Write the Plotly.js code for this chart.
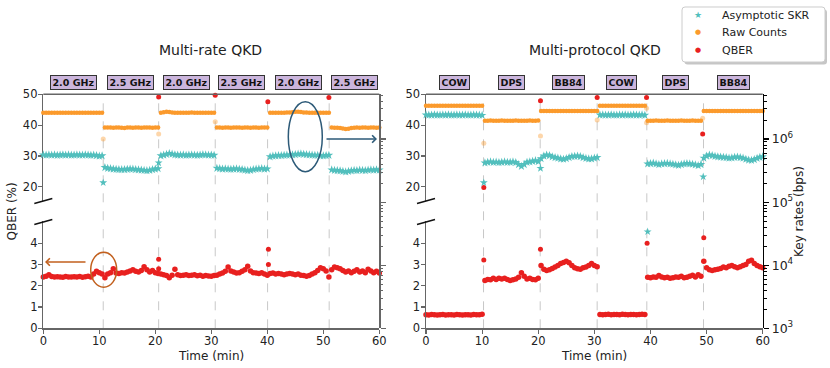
<!DOCTYPE html>
<html><head><meta charset="utf-8">
<script src="https://cdn.plot.ly/plotly-3.0.1.min.js"></script>
<style>html,body{margin:0;padding:0;background:#fff}</style>
</head><body><div id="chart" style="width:830px;height:368px"></div>
<script>
// ---------- data ----------
const timeMin = [0,0.5,1,1.5,2,2.5,3,3.5,4,4.5,5,5.5,6,6.5,7,7.5,8,8.5,9,9.5,10,10.5,11,11.5,12,12.5,13,13.5,14,14.5,15,15.5,16,16.5,17,17.5,18,18.5,19,19.5,20,20.5,21,21.5,22,22.5,23,23.5,24,24.5,25,25.5,26,26.5,27,27.5,28,28.5,29,29.5,30,30.5,31,31.5,32,32.5,33,33.5,34,34.5,35,35.5,36,36.5,37,37.5,38,38.5,39,39.5,40,40.5,41,41.5,42,42.5,43,43.5,44,44.5,45,45.5,46,46.5,47,47.5,48,48.5,49,49.5,50,50.5,51,51.5,52,52.5,53,53.5,54,54.5,55,55.5,56,56.5,57,57.5,58,58.5,59,59.5,60];

const switchRate = [10.7,20.6,30.7,40.05,51.05];
const switchProto = [10.25,20.35,30.5,39.35,49.45];
const rateLabels = ['2.0 GHz','2.5 GHz','2.0 GHz','2.5 GHz','2.0 GHz','2.5 GHz'];
const protoLabels = ['COW','DPS','BB84','COW','DPS','BB84'];
const seriesNames = ['Asymptotic SKR','Raw Counts','QBER'];

// Multi-rate panel
const rateSkr = [5.62e5,5.58e5,5.63e5,5.57e5,5.61e5,5.55e5,5.60e5,5.64e5,5.58e5,5.62e5,5.56e5,5.60e5,5.63e5,5.59e5,5.57e5,5.62e5,5.60e5,5.55e5,5.58e5,5.50e5,5.38e5,5.45e5,
 3.55e5,3.45e5,3.40e5,3.36e5,3.33e5,3.30e5,3.28e5,3.30e5,3.33e5,3.36e5,3.35e5,3.30e5,3.27e5,3.24e5,3.20e5,3.16e5,3.20e5,3.28e5,3.36e5,3.40e5,
 5.45e5,5.60e5,5.72e5,5.90e5,5.78e5,5.65e5,5.60e5,5.58e5,5.62e5,5.55e5,5.60e5,5.63e5,5.58e5,5.55e5,5.60e5,5.66e5,5.62e5,5.57e5,5.60e5,5.55e5,
 3.45e5,3.40e5,3.36e5,3.38e5,3.35e5,3.32e5,3.36e5,3.38e5,3.33e5,3.30e5,3.22e5,3.18e5,3.20e5,3.28e5,3.35e5,3.38e5,3.40e5,3.36e5,3.38e5,
 5.25e5,5.38e5,5.45e5,5.50e5,5.48e5,5.55e5,5.58e5,5.60e5,5.65e5,5.70e5,5.78e5,5.82e5,5.75e5,5.68e5,5.62e5,5.58e5,5.55e5,5.52e5,5.45e5,5.42e5,5.50e5,5.55e5,
 3.25e5,3.20e5,3.18e5,3.15e5,3.08e5,3.03e5,3.08e5,3.15e5,3.20e5,3.18e5,3.22e5,3.20e5,3.17e5,3.22e5,3.25e5,3.22e5,3.26e5,3.24e5];
const rateRaw = [2.62e6,2.61e6,2.62e6,2.62e6,2.61e6,2.62e6,2.62e6,2.61e6,2.62e6,2.62e6,2.61e6,2.62e6,2.62e6,2.61e6,2.62e6,2.62e6,2.61e6,2.62e6,2.62e6,2.61e6,2.62e6,2.61e6,
 1.53e6,1.52e6,1.52e6,1.51e6,1.52e6,1.52e6,1.51e6,1.50e6,1.52e6,1.52e6,1.51e6,1.52e6,1.52e6,1.51e6,1.52e6,1.52e6,1.52e6,1.51e6,1.52e6,1.52e6,
 2.62e6,2.66e6,2.72e6,2.68e6,2.63e6,2.62e6,2.61e6,2.62e6,2.62e6,2.61e6,2.62e6,2.63e6,2.62e6,2.61e6,2.62e6,2.62e6,2.61e6,2.62e6,2.62e6,2.61e6,
 1.52e6,1.52e6,1.51e6,1.52e6,1.52e6,1.51e6,1.52e6,1.52e6,1.52e6,1.51e6,1.52e6,1.52e6,1.51e6,1.52e6,1.52e6,1.51e6,1.52e6,1.52e6,1.52e6,
 2.61e6,2.62e6,2.62e6,2.61e6,2.62e6,2.62e6,2.63e6,2.64e6,2.66e6,2.70e6,2.72e6,2.68e6,2.65e6,2.63e6,2.62e6,2.61e6,2.62e6,2.62e6,2.61e6,2.62e6,2.62e6,2.61e6,
 1.52e6,1.51e6,1.51e6,1.50e6,1.47e6,1.44e6,1.46e6,1.50e6,1.51e6,1.52e6,1.51e6,1.52e6,1.52e6,1.51e6,1.52e6,1.52e6,1.51e6,1.52e6];
const rateQber = [2.42,2.45,2.52,2.44,2.41,2.43,2.42,2.40,2.44,2.42,2.41,2.43,2.42,2.44,2.40,2.43,2.45,2.42,2.55,2.68,2.62,2.55,
 2.38,2.55,2.62,2.80,2.60,2.58,2.62,2.60,2.65,2.70,2.76,2.68,2.65,2.72,2.90,2.75,2.65,2.72,2.62,2.58,
 2.55,2.52,2.48,2.38,2.50,2.78,2.52,2.48,2.50,2.52,2.48,2.50,2.52,2.47,2.50,2.45,2.48,2.46,2.45,2.48,
 2.50,2.55,2.60,2.68,2.88,2.70,2.65,2.60,2.62,2.68,2.75,2.92,2.70,2.62,2.60,2.58,2.62,2.55,2.50,
 2.58,2.60,2.55,2.58,2.55,2.52,2.55,2.58,2.55,2.52,2.55,2.50,2.48,2.45,2.48,2.55,2.62,2.72,2.85,2.80,2.70,2.42,
 2.75,2.88,2.85,2.80,2.72,2.65,2.70,2.62,2.68,2.75,2.65,2.70,2.62,2.78,2.70,2.62,2.68,2.60];
const rateQberHighT = [20.6,30.7,40.1,51.0];
const rateQberHigh = [49.1,49.7,47.6,49.0];
const rateQberSpikeT = [20.6,20.6,40.2,40.2];
const rateQberSpike = [3.25,2.80,3.72,3.00];
const rateRawTransT = [10.7,20.6,30.7];
const rateRawTrans = [1.0e6,1.2e6,1.89e6];
const rateSkrTransT = [10.7,20.6];
const rateSkrTrans = [2.04e5,4.2e5];

// Multi-protocol panel
const protoSkr = [2.42e6,2.40e6,2.41e6,2.43e6,2.41e6,2.40e6,2.42e6,2.41e6,2.43e6,2.40e6,2.41e6,2.42e6,2.40e6,2.41e6,2.42e6,2.40e6,2.41e6,2.42e6,2.41e6,2.40e6,2.38e6,
 4.20e5,4.30e5,4.35e5,4.28e5,4.32e5,4.25e5,4.30e5,4.35e5,4.28e5,4.30e5,4.35e5,4.25e5,3.95e5,3.70e5,3.95e5,4.30e5,4.35e5,4.45e5,4.55e5,4.40e5,
 4.90e5,5.40e5,5.60e5,5.50e5,5.25e5,5.10e5,5.00e5,4.85e5,4.80e5,4.90e5,5.10e5,5.30e5,5.35e5,5.40e5,5.30e5,5.10e5,4.95e5,4.85e5,4.85e5,5.00e5,5.10e5,
 2.41e6,2.42e6,2.40e6,2.41e6,2.43e6,2.41e6,2.40e6,2.42e6,2.41e6,2.42e6,2.40e6,2.41e6,2.43e6,2.41e6,2.40e6,2.42e6,2.39e6,
 4.05e5,4.10e5,4.15e5,4.05e5,3.95e5,4.05e5,4.10e5,4.12e5,4.05e5,4.00e5,3.90e5,3.85e5,3.95e5,4.05e5,4.10e5,4.05e5,4.00e5,3.90e5,3.80e5,3.95e5,
 5.00e5,5.40e5,5.60e5,5.50e5,5.35e5,5.25e5,5.20e5,5.15e5,5.10e5,5.00e5,5.05e5,5.15e5,5.20e5,5.10e5,5.00e5,4.80e5,4.65e5,4.60e5,4.75e5,4.95e5,5.15e5,5.25e5];
const protoRaw = [3.38e6,3.39e6,3.38e6,3.38e6,3.39e6,3.38e6,3.38e6,3.39e6,3.38e6,3.38e6,3.39e6,3.38e6,3.38e6,3.39e6,3.38e6,3.38e6,3.39e6,3.38e6,3.38e6,3.39e6,3.38e6,
 1.95e6,1.96e6,1.97e6,1.96e6,1.95e6,1.96e6,1.97e6,1.96e6,1.95e6,1.96e6,1.96e6,1.97e6,1.95e6,1.96e6,1.96e6,1.95e6,1.97e6,1.96e6,1.96e6,1.97e6,
 2.79e6,2.80e6,2.79e6,2.79e6,2.80e6,2.79e6,2.79e6,2.80e6,2.79e6,2.79e6,2.80e6,2.79e6,2.79e6,2.80e6,2.79e6,2.79e6,2.80e6,2.79e6,2.79e6,2.80e6,2.79e6,
 3.38e6,3.39e6,3.38e6,3.38e6,3.39e6,3.38e6,3.38e6,3.39e6,3.38e6,3.38e6,3.39e6,3.38e6,3.38e6,3.39e6,3.38e6,3.38e6,3.39e6,
 1.96e6,1.95e6,1.96e6,1.97e6,1.96e6,1.95e6,1.96e6,1.97e6,1.96e6,1.96e6,1.95e6,1.96e6,1.97e6,1.96e6,1.95e6,1.96e6,1.97e6,1.96e6,1.95e6,1.96e6,
 2.79e6,2.79e6,2.80e6,2.79e6,2.79e6,2.80e6,2.79e6,2.79e6,2.80e6,2.79e6,2.79e6,2.80e6,2.79e6,2.79e6,2.80e6,2.79e6,2.79e6,2.80e6,2.79e6,2.79e6,2.80e6,2.79e6];
const protoQber = [0.64,0.63,0.65,0.64,0.63,0.64,0.65,0.63,0.64,0.64,0.63,0.65,0.64,0.63,0.64,0.64,0.63,0.65,0.64,0.64,0.66,
 2.25,2.30,2.28,2.35,2.30,2.36,2.32,2.35,2.30,2.25,2.28,2.32,2.40,2.62,2.45,2.32,2.35,2.30,2.28,2.35,
 2.95,2.78,2.72,2.75,2.82,2.88,2.95,3.05,3.10,3.15,3.08,2.95,2.85,2.80,2.78,2.85,2.88,2.95,3.05,2.95,2.90,
 0.65,0.64,0.65,0.66,0.64,0.65,0.65,0.64,0.66,0.65,0.64,0.65,0.65,0.64,0.65,0.66,0.65,
 2.40,2.38,2.42,2.40,2.48,2.42,2.38,2.40,2.35,2.38,2.42,2.40,2.45,2.38,2.40,2.45,2.50,2.42,2.52,2.45,
 3.15,2.85,2.75,2.72,2.75,2.78,2.82,2.88,2.85,2.92,2.95,2.90,2.85,2.90,2.95,3.00,3.15,3.20,3.05,2.95,2.90,2.85];
const protoQberHighT = [10.3,20.4,30.5,39.3,49.3];
const protoQberHigh = [19.8,47.9,49.0,49.0,37.1];
const protoQberSpikeT = [10.3,20.4,39.4,49.5];
const protoQberSpike = [3.21,3.72,4.00,4.26];
const protoRawTransT = [10.3,20.4,30.5,39.3,39.3,49.3];
const protoRawTrans = [8.6e5,1.12e6,2.0e6,3.07e6,1.82e6,2.14e6];
const protoSkrTransT = [10.3,20.4,39.5,49.4];
const protoSkrTrans = [2.04e5,3.44e5,3.4e4,2.53e5];

// ---------- style ----------
const W = 830, H = 368;
const px = x => x / W, py = y => 1 - y / H;
const F = 'DejaVu Sans, sans-serif';
const GREY = '#666666';
const TEAL = '#52bfbd', ORANGE = '#fb9a2c', RED = '#e8201f';
const yLow = [py(328.3), py(221)], yUp = [py(201), py(94.3)], yAll = [py(328.3), py(94.3)];
const xL = [px(43.3), px(379.3)], xR = [px(426), px(762.7)];

function sc(x, y, xa, ya, color, symbol, size, opacity) {
  return {type:'scatter', mode:'markers', x:x, y:y, xaxis:xa, yaxis:ya,
    showlegend:false, opacity: opacity || 1, cliponaxis:false,
    marker:{color:color, symbol:symbol, size:size, line:{width:0}}, hoverinfo:'skip'};
}
const traces = [
  sc(timeMin, rateSkr, 'x', 'y3', TEAL, 'star', 6.5),
  sc(timeMin, rateRaw, 'x', 'y3', ORANGE, 'circle', 4.5),
  sc(timeMin, rateQber, 'x', 'y', RED, 'circle', 5.5),
  sc(rateSkrTransT, rateSkrTrans, 'x', 'y3', TEAL, 'star', 6),
  sc(rateRawTransT, rateRawTrans, 'x', 'y3', ORANGE, 'circle', 5, 0.4),
  sc(rateQberSpikeT, rateQberSpike, 'x', 'y', RED, 'circle', 5),
  sc(rateQberHighT, rateQberHigh, 'x', 'y2', RED, 'circle', 5),
  sc(timeMin, protoSkr, 'x2', 'y6', TEAL, 'star', 6.5),
  sc(timeMin, protoRaw, 'x2', 'y6', ORANGE, 'circle', 4.5),
  sc(timeMin, protoQber, 'x2', 'y4', RED, 'circle', 5.5),
  sc(protoSkrTransT, protoSkrTrans, 'x2', 'y6', TEAL, 'star', 6),
  sc(protoRawTransT, protoRawTrans, 'x2', 'y6', ORANGE, 'circle', 5, 0.4),
  sc(protoQberSpikeT, protoQberSpike, 'x2', 'y4', RED, 'circle', 5),
  sc(protoQberHighT, protoQberHigh, 'x2', 'y5', RED, 'circle', 5)
];

const base = {showgrid:false, zeroline:false, showline:true, linecolor:GREY, linewidth:1.5,
  ticks:'outside', ticklen:4, tickwidth:1.2, tickcolor:GREY, automargin:false, fixedrange:true,
  tickfont:{family:F, size:11.5, color:'#222'}};
const minorLog = {ticks:'outside', ticklen:2.5, tickwidth:1, tickcolor:GREY,
  tickvals:[2e3,3e3,4e3,5e3,6e3,7e3,8e3,9e3,2e4,3e4,4e4,5e4,6e4,7e4,8e4,9e4,2e5,3e5,4e5,5e5,6e5,7e5,8e5,9e5,2e6,3e6,4e6,5e6]};
const logTicks = [1e3,1e4,1e5,1e6];
const logText = ['10<sup>3</sup>','10<sup>4</sup>','10<sup>5</sup>','10<sup>6</sup>'];

const shapes = [];
function vlines(arr, xref) {
  arr.forEach(s => shapes.push({type:'line', xref:xref, yref:'paper', x0:s, x1:s, y0:yAll[0], y1:yAll[1],
    layer:'below', line:{color:'#c8c8c8', width:1, dash:'dash'}}));
}
vlines(switchRate, 'x'); vlines(switchProto, 'x2');
function pline(x0, y0, x1, y1, color, w) {
  shapes.push({type:'line', xref:'paper', yref:'paper', x0:px(x0), y0:py(y0), x1:px(x1), y1:py(y1),
    line:{color:color, width:w}});
}
// top spines
pline(43.3, 94.3, 379.3, 94.3, GREY, 1.5);
pline(426, 94.3, 762.7, 94.3, GREY, 1.5);
// break marks
[43.3, 426].forEach(sx => {
  pline(sx - 9, 203.5, sx + 9, 198.5, '#111', 1.5);
  pline(sx - 9, 224.5, sx + 9, 219.5, '#111', 1.5);
});
// ellipses
shapes.push({type:'circle', xref:'paper', yref:'paper', x0:px(288.3), x1:px(322.3), y0:py(171.7), y1:py(101.7),
  line:{color:'#2d5a78', width:1.5}});
shapes.push({type:'circle', xref:'paper', yref:'paper', x0:px(90.7), x1:px(116.7), y0:py(287.3), y1:py(252.3),
  line:{color:'#c2601e', width:1.5}});
// legend frame (rounded) with shadow
function rrect(x0, y0, x1, y1, r) {
  const X = v => px(v).toFixed(5), Y = v => py(v).toFixed(5);
  return 'M' + X(x0 + r) + ',' + Y(y0) + ' L' + X(x1 - r) + ',' + Y(y0) + ' Q' + X(x1) + ',' + Y(y0) + ' ' + X(x1) + ',' + Y(y0 + r) +
    ' L' + X(x1) + ',' + Y(y1 - r) + ' Q' + X(x1) + ',' + Y(y1) + ' ' + X(x1 - r) + ',' + Y(y1) +
    ' L' + X(x0 + r) + ',' + Y(y1) + ' Q' + X(x0) + ',' + Y(y1) + ' ' + X(x0) + ',' + Y(y1 - r) +
    ' L' + X(x0) + ',' + Y(y0 + r) + ' Q' + X(x0) + ',' + Y(y0) + ' ' + X(x0 + r) + ',' + Y(y0) + ' Z';
}
shapes.push({type:'path', xref:'paper', yref:'paper', path:rrect(684.5, 9.5, 827, 64.5, 3), fillcolor:'#c6c6c6', line:{width:0}});
shapes.push({type:'path', xref:'paper', yref:'paper', path:rrect(682, 7, 825, 62, 3), fillcolor:'#ffffff', line:{color:'#cccccc', width:1}});

const annotations = [];
function txt(x, y, text, size, extra, color) {
  annotations.push(Object.assign({xref:'paper', yref:'paper', x:px(x), y:py(y), text:text, showarrow:false,
    font:{family:F, size:size, color:color || '#222'}, xanchor:'center', yanchor:'middle'}, extra || {}));
}
txt(210.5, 50, 'Multi-rate QKD', 14);
txt(595, 50, 'Multi-protocol QKD', 14);
txt(210.8, 356, 'Time (min)', 12);
txt(594.2, 356, 'Time (min)', 12);
txt(11.5, 212, 'QBER (%)', 12, {textangle:-90});
txt(799, 212, 'Key rates (bps)', 12, {textangle:-90});
// legend entries
const legendGlyph = ['★','●','●'];
const legendColor = [TEAL, ORANGE, RED];
const legendGlyphSize = [9, 7, 7];
seriesNames.forEach((n, i) => {
  const y = 15 + i * 17.5;
  txt(698, y, legendGlyph[i], legendGlyphSize[i], {}, legendColor[i]);
  txt(720, y, n, 11, {xanchor:'left'});
});

function boxes(labels, sw, xref) {
  const b = [0].concat(sw, [60]);
  labels.forEach((l, i) => annotations.push({xref:xref, yref:'paper', x:(b[i] + b[i + 1]) / 2, y:py(82.5),
    text:'<b>' + l + '</b>', showarrow:false, font:{family:F, size:9.5, color:'#111'},
    bgcolor:'#cbb5dc', bordercolor:'#333', borderwidth:1, borderpad:1.5, height:10, xanchor:'center', yanchor:'middle'}));
}
boxes(rateLabels, switchRate, 'x');
boxes(protoLabels, switchProto, 'x2');

// arrows
annotations.push({xref:'paper', yref:'paper', x:px(377), y:py(139), ax:-52, ay:0, text:'', showarrow:true,
  arrowhead:4, arrowsize:1.1, arrowwidth:1.3, arrowcolor:'#2d5a78'});
annotations.push({xref:'paper', yref:'paper', x:px(45), y:py(262), ax:42, ay:0, text:'', showarrow:true,
  arrowhead:4, arrowsize:1.1, arrowwidth:1.3, arrowcolor:'#c2601e'});

const layout = {
  width:W, height:H, margin:{l:0, r:0, t:0, b:0}, paper_bgcolor:'#fff', plot_bgcolor:'rgba(0,0,0,0)',
  showlegend:false,
  xaxis: Object.assign({}, base, {domain:xL, range:[0,60], anchor:'y', tickvals:[0,10,20,30,40,50,60], ticklabelstandoff:-3}),
  yaxis: Object.assign({}, base, {domain:yLow, range:[0,5.05], anchor:'x', tickvals:[0,1,2,3,4], ticklabelstandoff:-2}),
  yaxis2: Object.assign({}, base, {domain:yUp, range:[15.4,50], anchor:'x', tickvals:[20,30,40,50], ticklabelstandoff:-2}),
  yaxis3: Object.assign({}, base, {domain:yAll, type:'log', range:[3,6.71], anchor:'x', side:'right',
    tickvals:logTicks, showticklabels:false, ticklen:5, minor:minorLog}),
  xaxis2: Object.assign({}, base, {domain:xR, range:[0,60], anchor:'y4', tickvals:[0,10,20,30,40,50,60], ticklabelstandoff:-3}),
  yaxis4: Object.assign({}, base, {domain:yLow, range:[0,5.05], anchor:'x2', tickvals:[0,1,2,3,4], ticklabelstandoff:-2}),
  yaxis5: Object.assign({}, base, {domain:yUp, range:[15.4,50], anchor:'x2', tickvals:[20,30,40,50], ticklabelstandoff:-2}),
  yaxis6: Object.assign({}, base, {domain:yAll, type:'log', range:[3,6.71], anchor:'x2', side:'right',
    tickvals:logTicks, ticktext:logText, linecolor:'#000', tickcolor:'#000', ticklen:5,
    minor:Object.assign({}, minorLog, {tickcolor:'#000'}), tickfont:{family:F, size:12.5, color:'#222'}}),
  shapes:shapes, annotations:annotations
};
Plotly.newPlot('chart', traces, layout, {displayModeBar:false, staticPlot:true});
</script></body></html>
